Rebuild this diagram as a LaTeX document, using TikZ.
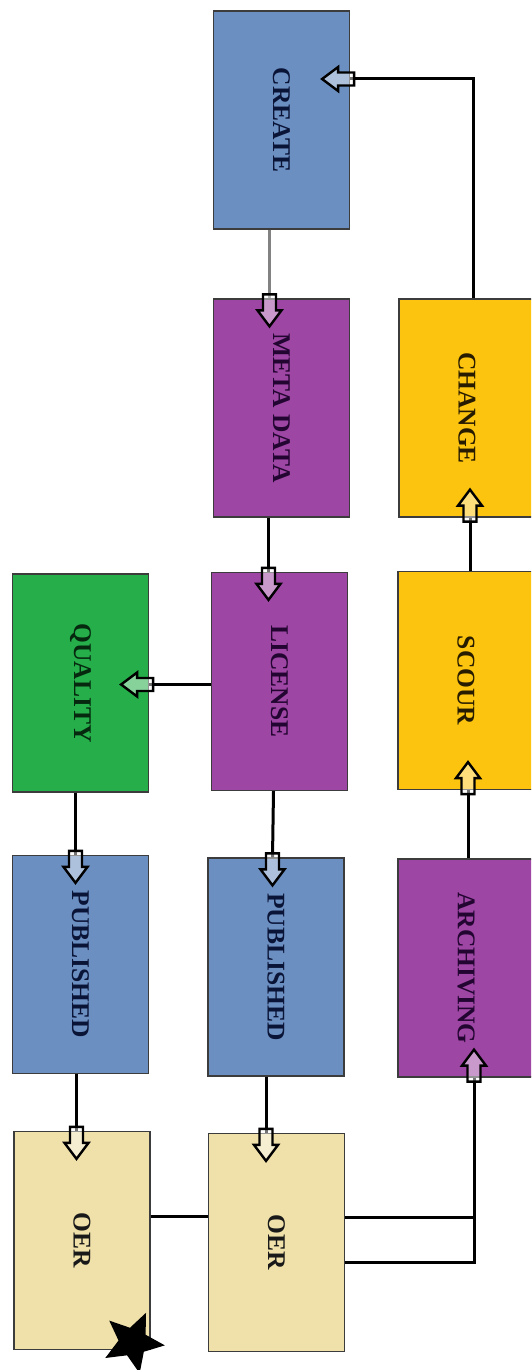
\documentclass[tikz,border=0pt]{standalone}
\usepackage{fontspec}
\setmainfont{Liberation Serif}
\usepackage{graphicx}
\usepackage{tikz}
\usetikzlibrary{shapes.geometric, calc}
\definecolor{pubcolor}{RGB}{108,143,193}
\definecolor{metacolor}{RGB}{158,70,163}
\definecolor{scourcolor}{RGB}{253,196,15}
\definecolor{qualcolor}{RGB}{38,174,74}
\definecolor{oercolor}{RGB}{240,225,170}
\definecolor{edgecolor}{RGB}{60,60,60}
\definecolor{pubtext}{RGB}{10,20,55}
\definecolor{metatext}{RGB}{35,5,50}
\definecolor{scourtext}{RGB}{40,28,0}
\definecolor{qualtext}{RGB}{5,40,15}
\definecolor{oertext}{RGB}{25,25,25}
\definecolor{flowgray}{RGB}{130,130,130}

\begin{document}
\begin{tikzpicture}[
    x=1pt, y=-1pt,
    stage/.style={draw=edgecolor, line width=1.2pt, minimum width=136pt, minimum height=218pt, inner sep=0pt, font=\fontsize{25.5}{30}\selectfont\bfseries},
    flow/.style={line width=3pt, black},
    hollowtip/.pic={\draw[draw=black, line width=2.4pt, fill=white, fill opacity=0.45] (-4,-6.5) -- (12,-6.5) -- (12,-12) -- (28,0) -- (12,12) -- (12,6.5) -- (-4,6.5) -- cycle;}
]
    \useasboundingbox (0,0) rectangle (531,1370);
    \clip (0,0) rectangle (531,1370);

    % Stages
    \node[stage, fill=pubcolor, text=pubtext] (create) at (281.5,120) {\rotatebox{-90}{CREATE}};
    \node[stage, fill=metacolor, text=metatext] (meta) at (281.5,408) {\rotatebox{-90}{META DATA}};
    \node[stage, fill=scourcolor, text=scourtext] (change) at (467,408) {\rotatebox{-90}{CHANGE}};
    \node[stage, fill=qualcolor, text=qualtext] (quality) at (80.5,683) {\rotatebox{-90}{QUALITY}};
    \node[stage, fill=metacolor, text=metatext] (license) at (279.5,681.5) {\rotatebox{-90}{LICENSE}};
    \node[stage, fill=scourcolor, text=scourtext] (scour) at (466,680.5) {\rotatebox{-90}{SCOUR}};
    \node[stage, fill=pubcolor, text=pubtext] (pub1) at (80.5,964.5) {\rotatebox{-90}{PUBLISHED}};
    \node[stage, fill=pubcolor, text=pubtext] (pub2) at (276,967) {\rotatebox{-90}{PUBLISHED}};
    \node[stage, fill=metacolor, text=metatext] (arch) at (466,968) {\rotatebox{-90}{ARCHIVING}};
    \node[stage, fill=oercolor, text=oertext] (oer1) at (82,1240.5) {\rotatebox{-90}{OER}};
    \node[stage, fill=oercolor, text=oertext] (oer2) at (276.5,1242.5) {\rotatebox{-90}{OER}};

    % Star
    \node[star, star points=5, star point ratio=2.2, fill=black, minimum size=64pt, inner sep=0pt, rotate=-24] (badge) at (133,1342) {};

    % Flow
    \draw[flow, flowgray, line width=2.5pt] ([xshift=-12pt]create.south) -- ([xshift=-12pt]meta.north) pic[rotate=-90]{hollowtip};
    \draw[flow] ([xshift=-13pt]meta.south) -- ([xshift=-11pt]license.north) pic[rotate=-90]{hollowtip};
    \draw[flow] ([yshift=-3pt]license.west) -- ([yshift=-3pt]license.west -| quality.east) pic[rotate=180]{hollowtip};
    \draw[flow] ([xshift=-5pt]quality.south) -- ([xshift=-5pt]pub1.north) pic[rotate=-90]{hollowtip};
    \draw[flow] ([xshift=-6pt]license.south) -- ([xshift=-3.5pt]pub2.north) pic[rotate=-90]{hollowtip};
    \draw[flow] ([xshift=-4pt]pub1.south) -- ([xshift=-5.5pt]oer1.north) pic[rotate=-90]{hollowtip};
    \draw[flow] ([xshift=-10pt]pub2.south) -- ([xshift=-10.5pt]oer2.north) pic[rotate=-90]{hollowtip};
    \draw[flow, line width=2.5pt] ([yshift=24pt]oer1.east) -- ([yshift=24pt]oer1.east -| oer2.west);

    % Loop back
    \coordinate (archin) at ([xshift=8pt]arch.south);
    \draw[flow, line width=2.5pt] ([yshift=25pt]oer2.east) -- ([yshift=25pt]oer2.east -| archin);
    \draw[flow] ([yshift=-20pt]oer2.east) -| (archin) pic[rotate=90]{hollowtip};
    \draw[flow] ([xshift=2pt]arch.north) -- ([xshift=2pt]scour.south) pic[rotate=90]{hollowtip};
    \draw[flow] ([xshift=4pt]scour.north) -- ([xshift=3pt]change.south) pic[rotate=90]{hollowtip};
    \draw[flow] ([xshift=6pt]change.north) |- ([yshift=41pt]create.east) pic[rotate=180]{hollowtip};
\end{tikzpicture}
\end{document}
